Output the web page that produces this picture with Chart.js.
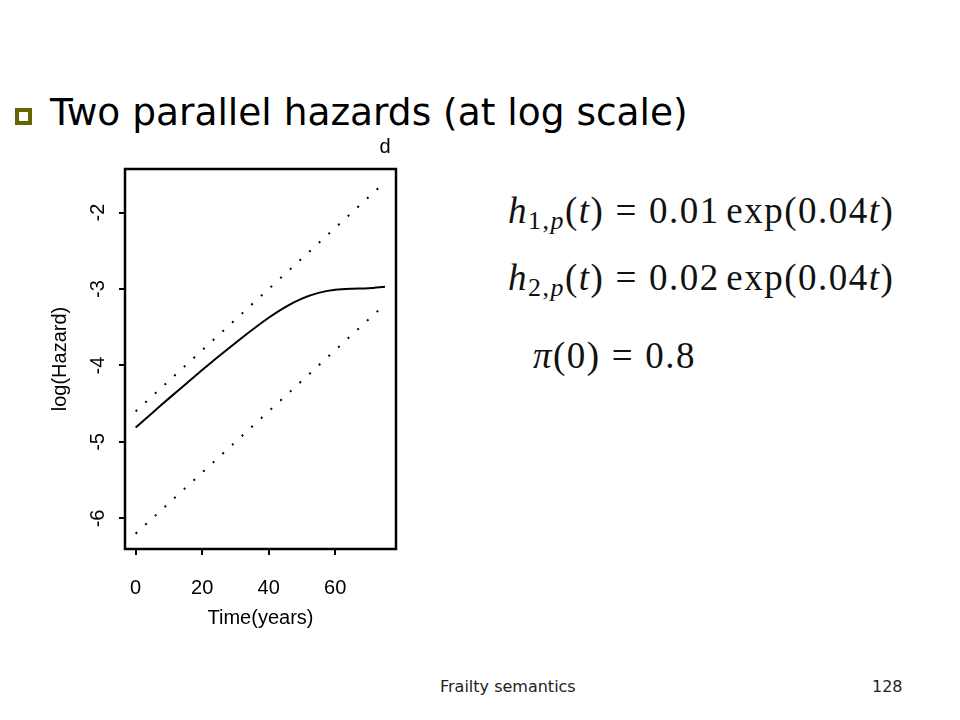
<!DOCTYPE html>
<html lang="en">
<head>
<meta charset="UTF-8">
<title>Two parallel hazards (at log scale)</title>
<script src="https://cdn.jsdelivr.net/npm/chart.js"></script>
<style>
  body {
    margin: 0;
    width: 960px;
    height: 720px;
    background: #fff;
    position: relative;
    overflow: hidden;
    font-family: 'DejaVu Sans', sans-serif;
  }
  .bullet {
    position: absolute;
    left: 15px; top: 108px;
    width: 17px; height: 17px;
    box-sizing: border-box;
    border: 4px solid #666600;
  }
  .heading {
    position: absolute;
    left: 50px; top: 94px;
    font-size: 37.5px;
    line-height: 37px;
    color: #000;
    white-space: nowrap;
  }
  #plotBox {
    position: absolute;
    left: 0; top: 130px;
  }
  .eq {
    position: absolute;
    font-family: 'Liberation Serif', serif;
    font-size: 37px;
    line-height: 36px;
    white-space: nowrap;
    color: #111;
    letter-spacing: 1.5px;
  }
  .eq sub {
    font-size: 0.7em;
    vertical-align: -0.25em;
    line-height: 0;
  }
  .eq .rel { margin: 0 0.3em; }
  .eq .fn { margin-left: 0.18em; }
  .footer {
    position: absolute;
    top: 679px;
    font-size: 16px;
    line-height: 16px;
    color: #222;
  }
</style>
</head>
<body>

  <div class="bullet"></div>
  <div class="heading">Two parallel hazards (at log scale)</div>

  <canvas id="plotBox" width="420" height="519"></canvas>

  <div class="eq" style="left:508px; top:193px;"><i>h</i><sub>1,<i>p</i></sub>(<i>t</i>)<span class="rel">=</span>0.01<span class="fn">exp</span>(0.04<i>t</i>)</div>
  <div class="eq" style="left:508px; top:260px;"><i>h</i><sub>2,<i>p</i></sub>(<i>t</i>)<span class="rel">=</span>0.02<span class="fn">exp</span>(0.04<i>t</i>)</div>
  <div class="eq" style="left:533px; top:338px;"><i>π</i>(0)<span class="rel">=</span>0.8</div>

  <div class="footer" style="left:440px;">Frailty semantics</div>
  <div class="footer" style="left:872px;">128</div>

  <script>
    // axis ticks
    const timeTicks = [0, 20, 40, 60];
    const logTicks = [-6, -5, -4, -3, -2];

    // dotted reference hazards (straight lines on log scale)
    const timeLine = [0, 75];
    const upperDotted = [-4.60, -1.60];
    const lowerDotted = [-6.20, -3.20];

    // population hazard (solid)
    const timeSolid = [0, 5, 10, 15, 20, 25, 30, 35, 40, 45, 50, 55, 60, 65, 70, 75];
    const popSolid = [-4.81, -4.62, -4.43, -4.245, -4.06, -3.88, -3.705, -3.535, -3.375, -3.235, -3.125, -3.05, -3.01, -2.995, -2.99, -2.97];

    const axisFont = { family: "'Liberation Sans', Arial, sans-serif", size: 20 };

    const toPoints = (xs, ys) => xs.map((x, i) => ({ x, y: ys[i] }));

    // R-style frame, rotated y labels and panel letter
    const rFrame = {
      id: 'rFrame',
      afterDraw(chart) {
        const { ctx, chartArea: a } = chart;
        const yScale = chart.scales.y;
        ctx.save();
        ctx.strokeStyle = '#000';
        ctx.lineWidth = 2.5;
        ctx.strokeRect(a.left, a.top, a.right - a.left, a.bottom - a.top);

        ctx.fillStyle = '#000';
        ctx.font = "20px 'Liberation Sans', Arial, sans-serif";
        ctx.textAlign = 'center';
        ctx.textBaseline = 'middle';
        logTicks.forEach(v => {
          const py = yScale.getPixelForValue(v);
          ctx.save();
          ctx.translate(98, py);
          ctx.rotate(-Math.PI / 2);
          ctx.fillText(String(v), 0, 0);
          ctx.restore();
        });

        ctx.fillText('d', a.right - 11, a.top - 22);
        ctx.restore();
      }
    };

    new Chart(document.getElementById('plotBox'), {
      type: 'line',
      data: {
        datasets: [
          {
            data: toPoints(timeLine, upperDotted),
            borderColor: '#000',
            borderWidth: 2,
            borderDash: [2, 11.1],
            pointRadius: 0
          },
          {
            data: toPoints(timeLine, lowerDotted),
            borderColor: '#000',
            borderWidth: 2,
            borderDash: [2, 11.1],
            pointRadius: 0
          },
          {
            data: toPoints(timeSolid, popSolid),
            borderColor: '#000',
            borderWidth: 2,
            cubicInterpolationMode: 'monotone',
            pointRadius: 0
          }
        ]
      },
      options: {
        responsive: false,
        animation: false,
        layout: { padding: { top: 39, right: 24, bottom: 0, left: 0 } },
        plugins: {
          legend: { display: false },
          tooltip: { enabled: false }
        },
        scales: {
          x: {
            type: 'linear',
            min: -3.2,
            max: 78.3,
            afterBuildTicks: s => { s.ticks = timeTicks.map(v => ({ value: v })); },
            afterFit: s => { s.height = 100; },
            border: { display: false },
            grid: { drawOnChartArea: false, drawTicks: true, tickLength: 6, color: '#000', lineWidth: 2 },
            ticks: { color: '#000', font: axisFont, padding: 21, maxRotation: 0, autoSkip: false },
            title: { display: true, text: 'Time(years)', color: '#000', font: axisFont, padding: { top: 0, bottom: 19 } }
          },
          y: {
            type: 'linear',
            min: -6.4,
            max: -1.43,
            afterBuildTicks: s => { s.ticks = logTicks.map(v => ({ value: v })); },
            afterFit: s => { s.width = 125; },
            border: { display: false },
            grid: { drawOnChartArea: false, drawTicks: true, tickLength: 6, color: '#000', lineWidth: 2 },
            ticks: { display: false },
            title: { display: true, text: 'log(Hazard)', color: '#000', font: axisFont, padding: { top: 48, bottom: 0 } }
          }
        }
      },
      plugins: [rFrame]
    });
  </script>
</body>
</html>
